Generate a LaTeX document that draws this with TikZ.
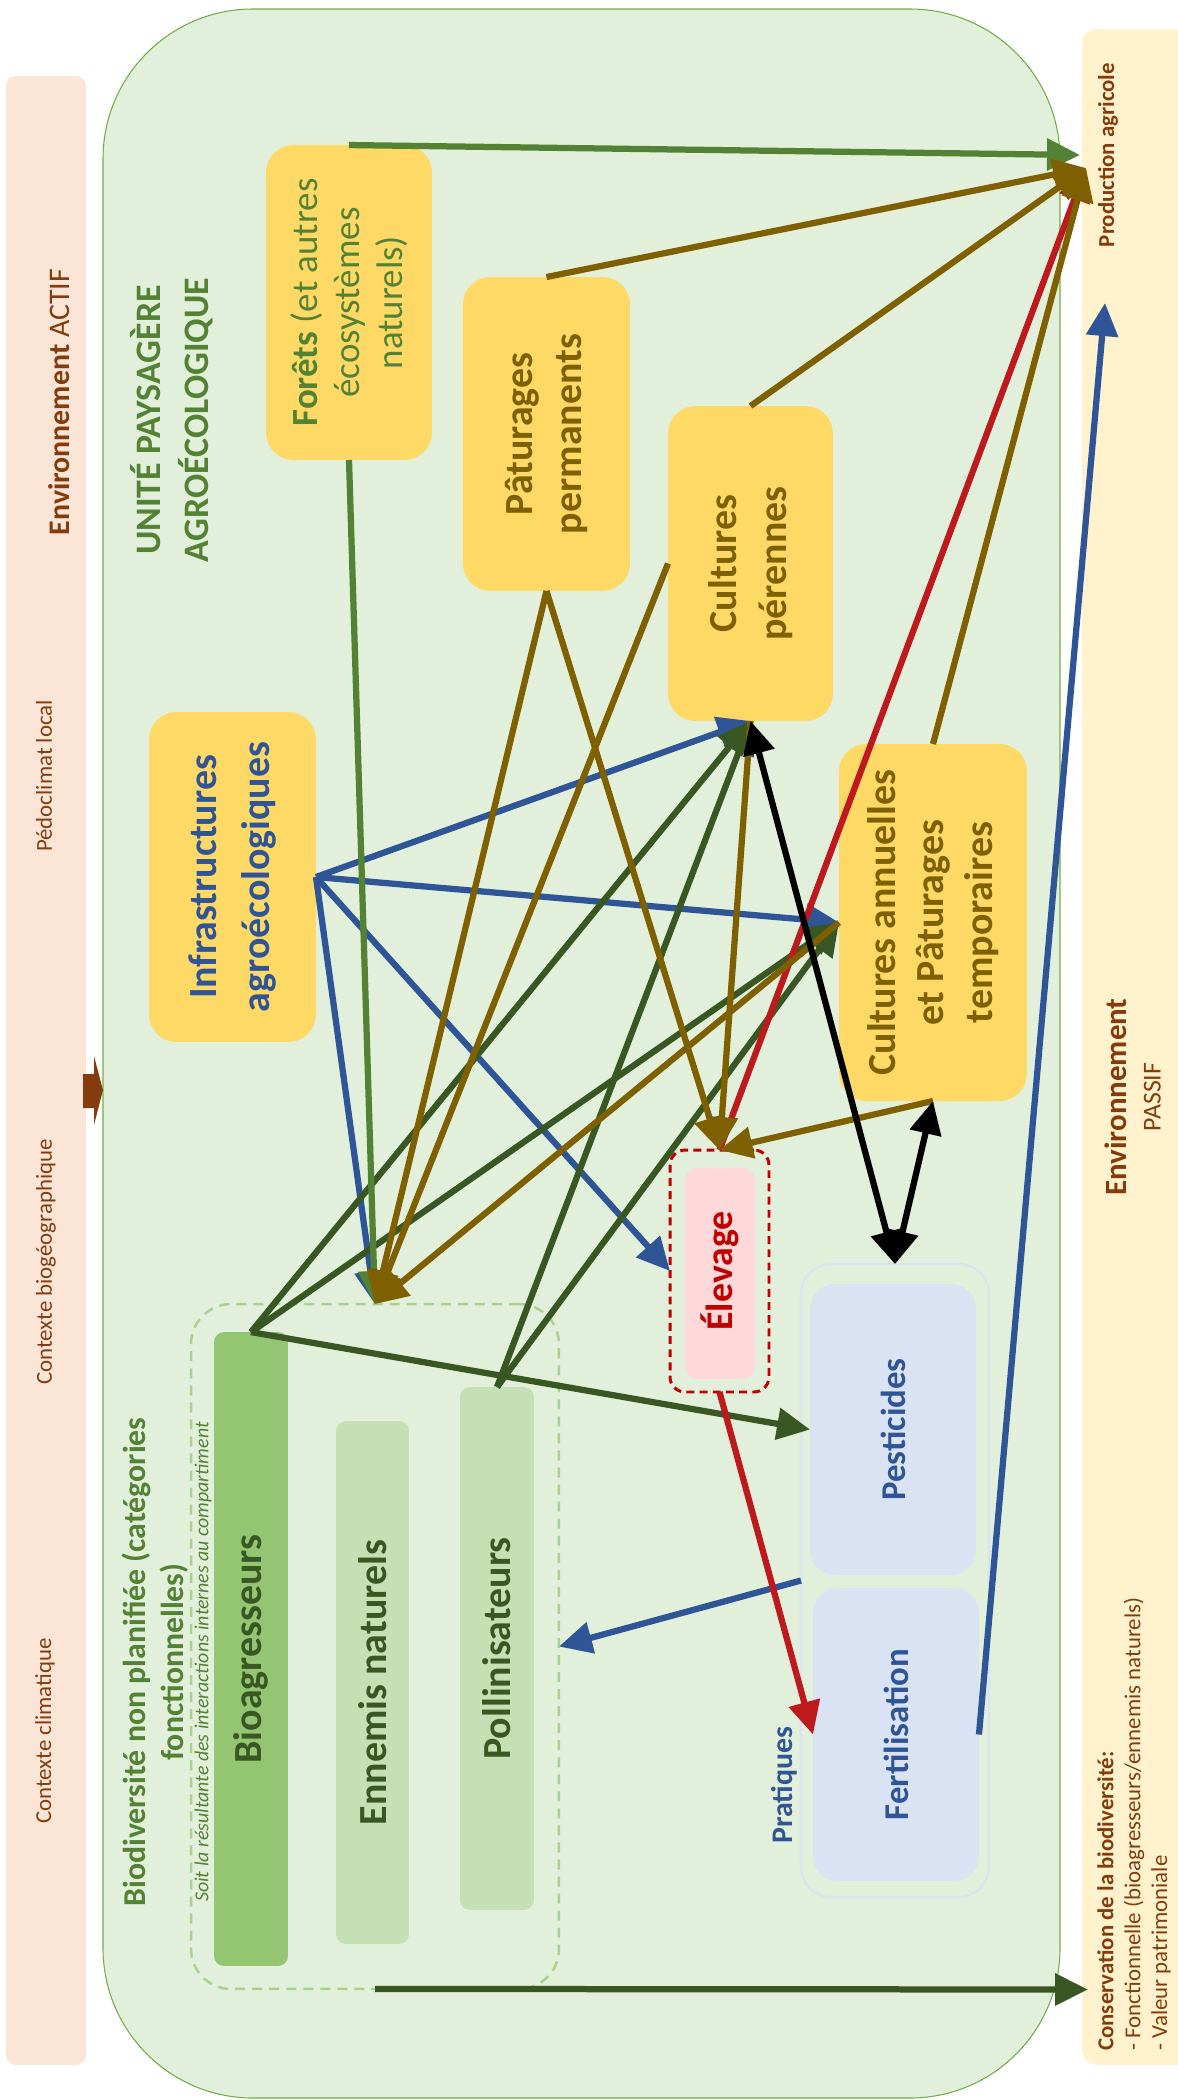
\documentclass[tikz,border=0pt]{standalone}
\usepackage{fontspec}
\setmainfont{Carlito}
\usetikzlibrary{arrows.meta}
\definecolor{rose}{HTML}{FBE5D6}
\definecolor{creme}{HTML}{FFF2CC}
\definecolor{fondvert}{HTML}{E2EFDA}
\definecolor{bordvert}{HTML}{70AD47}
\definecolor{jaune}{HTML}{FFD966}
\definecolor{brun}{HTML}{7F6000}
\definecolor{brique}{HTML}{843C0C}
\definecolor{bleu}{HTML}{2F5597}
\definecolor{bleupale}{HTML}{DAE3F3}
\definecolor{vertmoyen}{HTML}{548235}
\definecolor{vertfonce}{HTML}{385723}
\definecolor{vertbio}{HTML}{94C572}
\definecolor{vertclair}{HTML}{C5E0B4}
\definecolor{pointille}{HTML}{A9D18E}
\definecolor{rouge}{HTML}{C00000}
\definecolor{fleche}{HTML}{BE1A1E}
\definecolor{rosepale}{HTML}{FFD9D9}
\newcommand{\taille}[2]{\fontsize{#1}{#2}\selectfont}

\begin{document}
\begin{tikzpicture} [x = 0.02cm, y = -0.02cm,
  bloc/.style = {fill = jaune, rounded corners = 0.55cm, inner sep = 0, outer sep = 0},
  categorie/.style = {rounded corners = 0.2cm, inner sep = 0, outer sep = 0},
  pratique/.style = {fill = bleupale, rounded corners = 0.5cm, inner sep = 0, outer sep = 0},
  vertical/.style = {rotate = 90, align = center, inner sep = 0},
  lien/.style = {line width = 0.125cm, -{Triangle[length = 0.66cm, width = 0.62cm]}},
  liendouble/.style = {line width = 0.125cm, {Triangle[length = 0.66cm, width = 0.62cm]}-{Triangle[length = 0.66cm, width = 0.62cm]}}]
\useasboundingbox (0, 0) rectangle (1177, 2100);
\fill[rose, rounded corners = 0.2cm] (6, 76) rectangle (86, 2065);
\fill[creme, rounded corners = 0.3cm] (1082, 29) rectangle (1195, 2065);
\draw[fill = fondvert, draw = bordvert, line width = 0.6pt, rounded corners = 3cm] (103, 9) rectangle (1060, 2098);
\fill[brique] (83, 1074) -- (94, 1074) -- (94, 1056) -- (103, 1090) -- (94, 1125) -- (94, 1108) -- (83, 1108) -- cycle;
\node[vertical, text = brique, font = \taille{17}{20}] (actif) at (59, 402) {\textbf{Environnement} ACTIF};
\node[vertical, text = brique, font = \taille{13}{16}] (pedo) at (44, 776) {Pédoclimat local};
\node[vertical, text = brique, font = \taille{13}{16}] (biogeo) at (46, 1262) {Contexte biogéographique};
\node[vertical, text = brique, font = \taille{13}{16}] (climat) at (45, 1731) {Contexte climatique};
\node[vertical, text = brique, font = \taille{13}{16}\bfseries] (prodtxt) at (1108, 155) {Production agricole};
\node[vertical, text = brique, font = \taille{17.6}{19.3}] (passif) at (1133, 1097) {\textbf{Environnement}\\{\taille{14.7}{19.3}PASSIF}};
\node[rotate = 90, align = left, inner sep = 0, anchor = north west, text = brique, font = \taille{13}{15.3}] (conservtxt) at (1097, 2051) {\textbf{Conservation de la biodiversité:}\\- Fonctionnelle (bioagresseurs/ennemis naturels)\\- Valeur patrimoniale};
\node[vertical, text = vertmoyen, font = \taille{20.4}{27.2}\bfseries] (unite) at (172, 420) {UNITÉ PAYSAGÈRE\\AGROÉCOLOGIQUE};
\node[bloc, minimum width = 3.32cm, minimum height = 6.3cm] (foret) at (349, 302.5) {};
\node[bloc, minimum width = 3.34cm, minimum height = 6.28cm] (pature) at (546.5, 434) {};
\node[bloc, minimum width = 3.3cm, minimum height = 6.3cm] (perenne) at (750.5, 563.5) {};
\node[bloc, minimum width = 3.76cm, minimum height = 7.14cm] (annuelle) at (933, 922.5) {};
\node[bloc, minimum width = 3.34cm, minimum height = 6.6cm] (infra) at (232.5, 877) {};
\node[vertical, text = vertmoyen, font = \taille{21}{24.4}] (forettxt) at (foret.center) {\textbf{Forêts} (et autres\\écosystèmes\\naturels)};
\node[vertical, text = brun, font = \taille{22.7}{28.3}\bfseries] (paturetxt) at (pature.center) {Pâturages\\permanents};
\node[vertical, text = brun, font = \taille{22.7}{28.3}\bfseries] (perennetxt) at (perenne.center) {Cultures\\pérennes};
\node[vertical, text = brun, font = \taille{22.7}{27.8}\bfseries] (annuelletxt) at (annuelle.center) {Cultures annuelles\\et Pâturages\\temporaires};
\node[vertical, text = bleu, font = \taille{22.7}{30.6}\bfseries] (infratxt) at (infra.center) {Infrastructures\\agroécologiques};
\node[draw = rouge, line width = 1.7pt, dash pattern = on 4.5pt off 3pt, rounded corners = 0.3cm, inner sep = 0, outer sep = 0, minimum width = 1.98cm, minimum height = 4.84cm] (elevage) at (719.5, 1271) {};
\node[fill = rosepale, rounded corners = 0.25cm, inner sep = 0, minimum width = 1.4cm, minimum height = 4.22cm] (elevfond) at (720, 1273.5) {};
\node[vertical, text = rouge, font = \taille{21.5}{26}\bfseries] (elevtxt) at (720, 1271) {Élevage};
\node[draw = bleupale, line width = 1.2pt, rounded corners = 0.6cm, inner sep = 0, outer sep = 0, minimum width = 3.76cm, minimum height = 12.66cm] (pratiques) at (895, 1580.5) {};
\node[pratique, minimum width = 3.32cm, minimum height = 5.82cm] (pesticides) at (893, 1429.5) {};
\node[pratique, minimum width = 3.32cm, minimum height = 5.86cm] (fertili) at (896, 1734.5) {};
\node[vertical, text = bleu, font = \taille{19.8}{24}\bfseries] (pesttxt) at (pesticides.center) {Pesticides};
\node[vertical, text = bleu, font = \taille{19.8}{24}\bfseries] (fertitxt) at (fertili.center) {Fertilisation};
\node[vertical, text = bleu, font = \taille{17}{20}\bfseries] (pratxt) at (784, 1785) {Pratiques};
\node[draw = pointille, line width = 1.4pt, dash pattern = on 5.7pt off 4pt, rounded corners = 0.8cm, inner sep = 0, outer sep = 0, minimum width = 7.36cm, minimum height = 13.7cm] (biodiv) at (375, 1646.5) {};
\node[categorie, fill = vertbio, minimum width = 1.48cm, minimum height = 12.68cm] (bioagr) at (251, 1649) {};
\node[categorie, fill = vertclair, minimum width = 1.46cm, minimum height = 10.46cm] (ennemis) at (372.5, 1682.5) {};
\node[categorie, fill = vertclair, minimum width = 1.48cm, minimum height = 10.46cm] (pollin) at (497, 1648.5) {};
\node[vertical, text = vertfonce, font = \taille{22.7}{27}\bfseries] (bioagrtxt) at (bioagr.center) {Bioagresseurs};
\node[vertical, text = vertfonce, font = \taille{22.7}{27}\bfseries] (ennemistxt) at (ennemis.center) {Ennemis naturels};
\node[vertical, text = vertfonce, font = \taille{22.7}{27}\bfseries] (pollintxt) at (pollin.center) {Pollinisateurs};
\node[vertical, text = vertmoyen, font = \taille{18.1}{22}\bfseries] (biodivtxt) at (155, 1662) {Biodiversité non planifiée (catégories\\fonctionnelles)};
\node[vertical, text = vertmoyen, font = \taille{11.3}{14}\itshape] (soittxt) at (203, 1662) {Soit la résultante des interactions internes au compartiment};
\coordinate (prodvert) at (1080, 155);
\coordinate (prodbrun) at (1086, 168);
\coordinate (prodbleu) at (1105, 303);
\coordinate (conserv) at (1088, 1989.5);
\draw[lien, bleu] (infra.east) -- (perenne.south);
\draw[lien, bleu] (infra.east) -- (annuelle.west);
\draw[lien, bleu] (infra.east) -- (elevage.west);
\draw[lien, bleu] (infra.east) -- (biodiv.north);
\draw[lien, bleu] (pratiques.west) -- (biodiv.east);
\draw[lien, bleu] (fertili.east) -- (prodbleu);
\draw[lien, vertfonce] (bioagr.north) -- (perenne.south);
\draw[lien, vertfonce] (bioagr.north) -- (annuelle.west);
\draw[lien, vertfonce] (bioagr.north) -- (pesticides.west);
\draw[lien, vertfonce] (pollin.north) -- (perenne.south);
\draw[lien, vertfonce] (pollin.north) -- (annuelle.west);
\draw[lien, vertfonce] (biodiv.south) -- (conserv);
\draw[lien, fleche] (elevage.north) -- (prodbrun);
\draw[lien, fleche] (elevage.south) -- (fertili.west);
\draw[lien, vertmoyen] (foret.north) -- (prodvert);
\draw[lien, vertmoyen] (foret.south) -- (biodiv.north);
\draw[lien, brun] (pature.north) -- (prodbrun);
\draw[lien, brun] (pature.south) -- (biodiv.north);
\draw[lien, brun] (pature.south) -- (elevage.north);
\draw[lien, brun] (perenne.north) -- (prodbrun);
\draw[lien, brun] (perenne.west) -- (biodiv.north);
\draw[lien, brun] (perenne.south) -- (elevage.north);
\draw[lien, brun] (annuelle.north) -- (prodbrun);
\draw[lien, brun] (annuelle.west) -- (biodiv.north);
\draw[lien, brun] (annuelle.south) -- (elevage.north);
\draw[liendouble, black] (perenne.south) -- (pratiques.north);
\draw[liendouble, black] (annuelle.south) -- (pratiques.north);
\end{tikzpicture}
\end{document}
